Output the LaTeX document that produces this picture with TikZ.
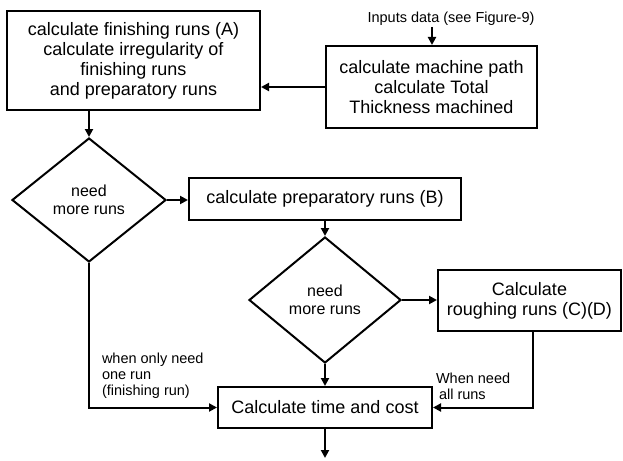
\documentclass[tikz,border=0pt]{standalone}
\usepackage{fontspec}
\setmainfont{Liberation Sans}
\usetikzlibrary{shapes.geometric,arrows.meta}
\begin{document}
\begin{tikzpicture}[x=1pt,y=-1pt,
  line width=2pt,
  every node/.style={inner sep=0pt},
  procbox/.style={draw, rectangle, align=center, font=\fontsize{18}{20}\selectfont},
  decision/.style={draw, diamond, align=center, font=\fontsize{16}{17.5}\selectfont},
  note/.style={align=left, font=\fontsize{14.5}{15.8}\selectfont},
  flow/.style={-{Triangle[length=8pt,width=8pt]}, line width=2pt}
]
\useasboundingbox (0,0) rectangle (623,460);

% process boxes
\node[procbox, minimum width=253pt, minimum height=99pt] (fin) at (133.5,60.5)
  {calculate finishing runs (A)\\calculate irregularity of\\finishing runs\\ and preparatory runs};
\node[procbox, minimum width=211pt, minimum height=82pt] (mach) at (431.5,87)
  {calculate machine path\\calculate Total\\Thickness machined};
\node[procbox, minimum width=272pt, minimum height=42pt] (prep) at (325,199)
  {calculate preparatory runs (B)};
\node[procbox, minimum width=183pt, minimum height=61pt] (rough) at (529.5,300.5)
  {Calculate\\roughing runs (C)(D)};
\node[procbox, minimum width=214pt, minimum height=41pt] (cost) at (325,407.5)
  {Calculate time and cost};

% decisions
\node[decision, minimum width=154pt, minimum height=124pt] (dA) at (89,200) {need\\more runs};
\node[decision, minimum width=152pt, minimum height=126pt] (dB) at (325,300) {need\\more runs};

% input note and free ends
\node[note, font=\fontsize{14.5}{16}\selectfont] (inp) at (451,19) {Inputs data (see Figure-9)};
\coordinate (inStart) at (432,27);
\coordinate (outEnd) at (325,458);
\coordinate (roughDrop) at (533,331);

% connectors
\draw[flow] (inStart) -- (inStart |- mach.north);
\draw[flow] (mach.west) -- (mach.west -| fin.east);
\draw[flow] (dA.north |- fin.south) -- (dA.north);
\draw[flow] (dA.east) -- (dA.east -| prep.west);
\draw[flow] (prep.south) -- (dB.north);
\draw[flow] (dB.east) -- (dB.east -| rough.west);
\draw[flow] (dB.south) -- (cost.north);
\draw[flow] (dA.south) |- (cost.west);
\draw[flow] (roughDrop) |- (cost.east);
\draw[flow] (cost.south) -- (outEnd);

% branch labels
\node[note, anchor=north west] (lblOne) at (101,352) {when only need\\one run\\(finishing run)};
\node[note, anchor=north west] (lblAll) at (435,372) {When need\\\hspace{3pt}all runs};
\end{tikzpicture}
\end{document}
